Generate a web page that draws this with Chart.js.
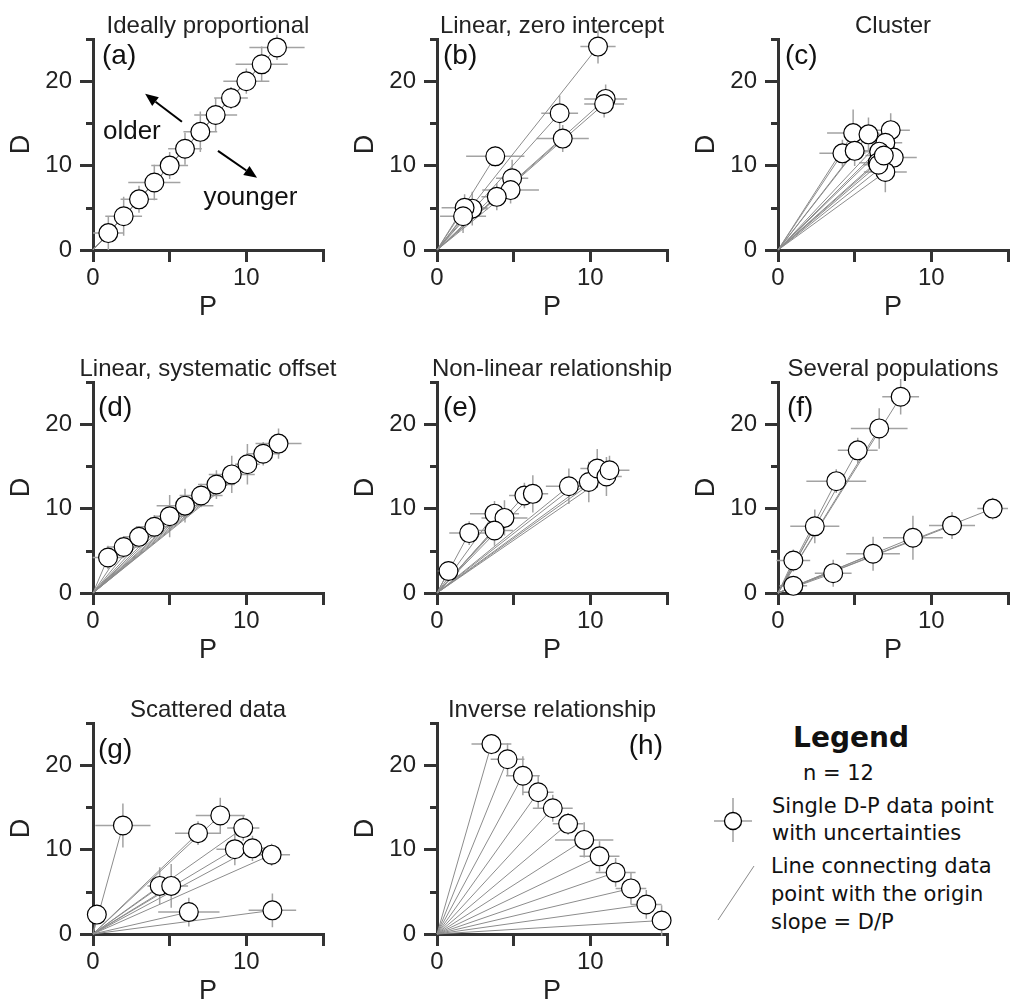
<!DOCTYPE html>
<html><head><meta charset="utf-8">
<script src="https://cdn.jsdelivr.net/npm/chart.js@4/dist/chart.umd.min.js"></script>
<style>
html,body{margin:0;padding:0;background:#fff;overflow:hidden;width:1010px;height:1005px;position:relative;}
canvas{position:absolute;}
#legend{position:absolute;left:0;top:0;}
</style></head><body>
<svg id="legend" width="1010" height="1005" xmlns="http://www.w3.org/2000/svg">
  <g font-family="DejaVu Sans, Verdana, sans-serif" fill="#111">
    <text x="851" y="747" font-size="28" font-weight="bold" text-anchor="middle">Legend</text>
    <text x="803" y="780" font-size="21">n = 12</text>
    <text x="772" y="813" font-size="21">Single D-P data point</text>
    <text x="772" y="840" font-size="21">with uncertainties</text>
    <text x="771" y="873" font-size="21">Line connecting data</text>
    <text x="771" y="901" font-size="21">point with the origin</text>
    <text x="771" y="929" font-size="21">slope = D/P</text>
  </g>
  <line x1="733" y1="798" x2="733" y2="842" stroke="#a0a0a0" stroke-width="1.5"/>
  <line x1="714" y1="821" x2="752" y2="821" stroke="#a0a0a0" stroke-width="1.5"/>
  <circle cx="733" cy="821" r="8.5" fill="#fff" stroke="#000" stroke-width="1.3"/>
  <line x1="718" y1="920" x2="754" y2="866" stroke="#8a8a8a" stroke-width="1"/>
</svg>
<script>
// ---------- data (P = x, D = y, with 1-sigma uncertainties) ----------
const pA = [1, 2, 3, 4, 5, 6, 7, 8, 9, 10, 11, 12];
const dA = [2, 4, 6, 8, 10, 12, 14, 16, 18, 20, 22, 24];
const ePA = [1.0, 1.2, 1.2, 1.7, 1.2, 1.1, 1.1, 1.4, 1.1, 1.5, 1.7, 1.8];
const eDA = [2.0, 2.3, 1.6, 2.1, 1.6, 1.9, 2.4, 2.0, 1.3, 1.5, 2.1, 1.5];

const pB = [10.5, 8.0, 8.2, 11.0, 10.9, 3.8, 4.9, 4.8, 3.9, 2.3, 1.8, 1.7];
const dB = [24.1, 16.2, 13.2, 17.9, 17.3, 11.1, 8.5, 7.1, 6.3, 4.9, 5.0, 4.0];
const ePB = [1.15, 1.2, 1.7, 1.4, 1.3, 1.9, 1.05, 1.85, 1.0, 1.0, 1.5, 1.5];
const eDB = [2.0, 2.1, 1.6, 1.7, 1.6, 1.2, 2.2, 1.6, 1.6, 2.0, 1.6, 2.0];

const pC = [4.2, 4.9, 5.0, 5.9, 7.35, 7.0, 6.6, 7.55, 6.5, 7.0, 6.55, 6.9];
const dC = [11.45, 13.85, 11.75, 13.7, 14.2, 12.7, 11.65, 10.95, 10.35, 9.25, 10.1, 11.2];
const ePC = [1.5, 1.7, 1.4, 1.2, 1.25, 1.1, 1.3, 1.5, 1.2, 1.4, 1.0, 1.2];
const eDC = [1.6, 2.8, 1.8, 2.0, 2.0, 1.7, 1.8, 1.5, 1.6, 2.4, 1.5, 1.3];

const pD = [0.98, 2.0, 3.0, 4.0, 5.0, 6.0, 7.05, 8.05, 9.05, 10.07, 11.1, 12.1];
const dD = [4.2, 5.45, 6.65, 7.85, 9.1, 10.35, 11.55, 12.85, 14.05, 15.25, 16.5, 17.7];
const ePD = [1.0, 1.1, 1.0, 1.2, 1.0, 1.85, 1.4, 1.2, 1.5, 0.8, 1.1, 1.5];
const eDD = [1.4, 1.3, 1.2, 1.4, 2.5, 2.0, 1.4, 1.7, 2.2, 2.4, 1.4, 1.8];

const pE = [0.75, 2.1, 3.75, 4.4, 3.75, 5.7, 6.25, 8.6, 9.9, 10.45, 11.05, 11.25];
const dE = [2.6, 7.1, 9.4, 8.9, 7.4, 11.55, 11.75, 12.65, 13.15, 14.75, 13.8, 14.55];
const ePE = [0.7, 1.3, 1.6, 1.5, 1.2, 1.0, 1.0, 1.5, 1.2, 1.1, 1.0, 1.3];
const eDE = [1.2, 1.4, 1.5, 2.1, 1.8, 1.5, 2.2, 2.1, 2.4, 2.3, 2.3, 1.7];

const pF = [1.0, 2.4, 3.8, 5.2, 6.6, 8.0, 1.0, 3.6, 6.2, 8.8, 11.35, 14.0];
const dF = [3.85, 7.9, 13.25, 16.9, 19.5, 23.25, 0.85, 2.35, 4.65, 6.55, 8.0, 10.0];
const ePF = [1.1, 1.6, 1.95, 1.3, 1.85, 1.2, 0.9, 1.2, 1.75, 1.95, 1.5, 1.0];
const eDF = [1.3, 2.0, 1.4, 1.5, 2.4, 2.1, 1.0, 1.6, 2.0, 2.6, 1.6, 1.3];

const pG = [0.25, 1.95, 4.35, 5.1, 6.25, 6.85, 8.3, 9.8, 9.25, 10.4, 11.65, 11.7];
const dG = [2.3, 12.85, 5.7, 5.7, 2.6, 11.95, 14.05, 12.55, 10.05, 10.15, 9.4, 2.8];
const ePG = [0.6, 1.8, 0.8, 1.1, 2.0, 1.5, 1.6, 1.05, 1.2, 1.0, 1.2, 1.55];
const eDG = [1.0, 2.6, 2.2, 2.6, 1.7, 1.4, 2.1, 1.5, 1.9, 1.5, 1.3, 2.0];

const pH = [3.55, 4.6, 5.6, 6.6, 7.55, 8.55, 9.6, 10.6, 11.65, 12.65, 13.65, 14.65];
const dH = [22.5, 20.7, 18.75, 16.8, 14.9, 13.05, 11.15, 9.2, 7.3, 5.4, 3.5, 1.6];
const ePH = [1.3, 1.1, 1.1, 1.0, 1.3, 1.0, 1.9, 1.3, 1.3, 1.0, 1.0, 0.5];
const eDH = [1.2, 1.9, 2.3, 2.0, 1.6, 1.3, 2.1, 1.8, 1.7, 1.9, 1.7, 1.8];

const titles = ['Ideally proportional', 'Linear, zero intercept', 'Cluster',
  'Linear, systematic offset', 'Non-linear relationship', 'Several populations',
  'Scattered data', 'Inverse relationship'];
const tags = ['(a)', '(b)', '(c)', '(d)', '(e)', '(f)', '(g)', '(h)'];
const xTicks = [0, 5, 10, 15];
const yTicks = [0, 5, 10, 15, 20, 25];
const xLabels = {0: '0', 10: '10'};
const yLabels = {0: '0', 10: '10', 20: '20'};

// ---------- layout ----------
const series = [[pA,dA,ePA,eDA],[pB,dB,ePB,eDB],[pC,dC,ePC,eDC],[pD,dD,ePD,eDD],
                [pE,dE,ePE,eDE],[pF,dF,ePF,eDF],[pG,dG,ePG,eDG],[pH,dH,ePH,eDH]];
const colLeft = [0, 344, 685];
const rowTop = [0, 343, 684];
const CW = 345, CH = 340;
const tagPos = [[9,25,'left'],[6,25,'left'],[7,25,'left'],[5,34,'left'],[6,34,'left'],[9,34,'left'],[5,35,'left'],[226,31,'right']];
const FONT = "'Liberation Sans', Arial, Helvetica, sans-serif";
const AXIS = '#333333';

const decor = {
  id: 'decor',
  beforeDatasetsDraw(chart) {
    const o = chart.options.plugins.decor;
    const ctx = chart.ctx, xs = chart.scales.x, ys = chart.scales.y;
    const x0 = xs.getPixelForValue(0), y0 = ys.getPixelForValue(0);
    ctx.save();
    ctx.lineCap = 'butt';
    // error bars
    ctx.strokeStyle = '#a3a3a3'; ctx.lineWidth = 1.5;
    o.P.forEach((p, i) => {
      const d = o.D[i];
      ctx.beginPath();
      ctx.moveTo(xs.getPixelForValue(p - o.eP[i]), ys.getPixelForValue(d));
      ctx.lineTo(xs.getPixelForValue(p + o.eP[i]), ys.getPixelForValue(d));
      ctx.moveTo(xs.getPixelForValue(p), ys.getPixelForValue(d - o.eD[i]));
      ctx.lineTo(xs.getPixelForValue(p), ys.getPixelForValue(d + o.eD[i]));
      ctx.stroke();
    });
    // lines to origin
    ctx.strokeStyle = '#8c8c8c'; ctx.lineWidth = 1;
    o.P.forEach((p, i) => {
      ctx.beginPath();
      ctx.moveTo(x0, y0);
      ctx.lineTo(xs.getPixelForValue(p), ys.getPixelForValue(o.D[i]));
      ctx.stroke();
    });
    ctx.restore();
  },
  afterDraw(chart) {
    const o = chart.options.plugins.decor;
    const ctx = chart.ctx, a = chart.chartArea, xs = chart.scales.x, ys = chart.scales.y;
    ctx.save();
    // short minor ticks on y axis
    ctx.strokeStyle = AXIS; ctx.lineWidth = 3;
    yTicks.filter(v => !(v in yLabels)).forEach(v => {
      const y = Math.round(ys.getPixelForValue(v)) + 0.5;
      ctx.beginPath(); ctx.moveTo(a.left - 7, y); ctx.lineTo(a.left, y); ctx.stroke();
    });
    // title
    ctx.fillStyle = '#222';
    ctx.font = '24px ' + FONT;
    ctx.textAlign = 'center'; ctx.textBaseline = 'alphabetic';
    ctx.fillText(o.title, (a.left + a.right) / 2, a.top - 6);
    // panel tag
    ctx.fillStyle = '#111';
    ctx.font = '28px ' + FONT;
    ctx.textAlign = o.tagAlign;
    ctx.fillText(o.tag, a.left + o.tagX, a.top + o.tagY);
    // annotation (a)
    if (o.annot) {
      ctx.font = '26px ' + FONT;
      ctx.textAlign = 'left';
      ctx.fillText('older', xs.getPixelForValue(0.65), ys.getPixelForValue(13.2));
      ctx.fillText('younger', xs.getPixelForValue(7.2), ys.getPixelForValue(5.3));
      const arrow = (p1, d1, p2, d2) => {
        const x1 = xs.getPixelForValue(p1), y1 = ys.getPixelForValue(d1);
        const x2 = xs.getPixelForValue(p2), y2 = ys.getPixelForValue(d2);
        const ang = Math.atan2(y2 - y1, x2 - x1), L = 13, W = 5.5;
        ctx.strokeStyle = '#000'; ctx.fillStyle = '#000'; ctx.lineWidth = 2;
        ctx.beginPath(); ctx.moveTo(x1, y1);
        ctx.lineTo(x2 - L * Math.cos(ang), y2 - L * Math.sin(ang)); ctx.stroke();
        ctx.beginPath(); ctx.moveTo(x2, y2);
        ctx.lineTo(x2 - L * Math.cos(ang) + W * Math.sin(ang), y2 - L * Math.sin(ang) - W * Math.cos(ang));
        ctx.lineTo(x2 - L * Math.cos(ang) - W * Math.sin(ang), y2 - L * Math.sin(ang) + W * Math.cos(ang));
        ctx.closePath(); ctx.fill();
      };
      arrow(5.8, 15.2, 3.4, 18.5);
      arrow(8.15, 11.75, 10.7, 8.55);
    }
    ctx.restore();
  }
};

series.forEach((s, k) => {
  const [P, D, eP, eD] = s;
  const cv = document.createElement('canvas');
  cv.width = CW; cv.height = CH;
  cv.style.left = colLeft[k % 3] + 'px';
  cv.style.top = rowTop[Math.floor(k / 3)] + 'px';
  document.body.appendChild(cv);
  new Chart(cv, {
    type: 'scatter',
    data: { datasets: [{
      data: P.map((p, i) => ({x: p, y: D[i]})),
      pointRadius: 9.4,
      pointBackgroundColor: '#ffffff',
      pointBorderColor: '#000000',
      pointBorderWidth: 1.2,
      showLine: false,
      clip: false
    }]},
    options: {
      responsive: false, animation: false, events: [],
      layout: { padding: { left: 0, top: 39, right: CW - 323, bottom: 0 } },
      plugins: {
        legend: { display: false }, tooltip: { enabled: false },
        decor: { P, D, eP, eD, title: titles[k], tag: tags[k],
                 tagX: tagPos[k][0], tagY: tagPos[k][1], tagAlign: tagPos[k][2], annot: k === 0 }
      },
      scales: {
        x: {
          type: 'linear', min: 0, max: 15,
          afterFit(sc) { sc.height = 90; },
          afterBuildTicks(sc) { sc.ticks = xTicks.map(v => ({value: v})); },
          border: { display: true, color: AXIS, width: 3 },
          grid: { display: true, drawOnChartArea: false, drawTicks: true, tickLength: 12,
                  tickWidth: 3, tickColor: AXIS, color: AXIS, lineWidth: 3 },
          ticks: { autoSkip: false, maxRotation: 0, padding: 2, color: '#222',
                   font: { family: FONT, size: 24 },
                   callback: v => (v in xLabels ? xLabels[v] : '') },
          title: { display: true, text: 'P', color: '#222', font: { family: FONT, size: 27 },
                   padding: { top: 0, bottom: 16 } }
        },
        y: {
          type: 'linear', min: 0, max: 25,
          afterFit(sc) { sc.width = 93; },
          afterBuildTicks(sc) { sc.ticks = yTicks.map(v => ({value: v})); },
          border: { display: true, color: AXIS, width: 3 },
          grid: { display: true, drawOnChartArea: false, drawTicks: true, tickLength: 13,
                  tickWidth: 3, color: AXIS, lineWidth: 3,
                  tickColor: c => (c.tick && (c.tick.value in yLabels) ? AXIS : 'rgba(0,0,0,0)') },
          ticks: { autoSkip: false, padding: 8, color: '#222',
                   font: { family: FONT, size: 24 },
                   callback: v => (v in yLabels ? yLabels[v] : '') },
          title: { display: true, text: 'D', color: '#222', font: { family: FONT, size: 27 },
                   padding: { top: 5, bottom: 0 } }
        }
      }
    },
    plugins: [decor]
  });
});
</script>
</body></html>
